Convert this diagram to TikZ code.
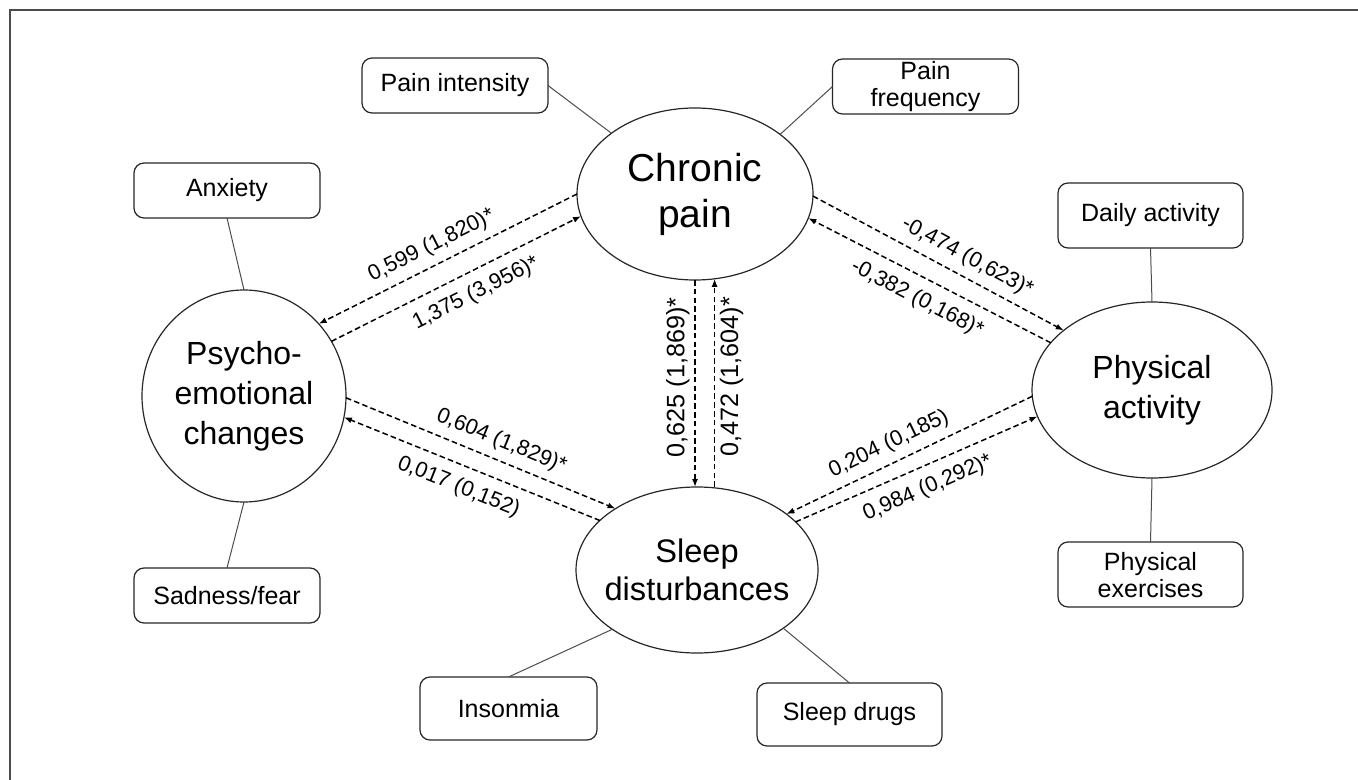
\documentclass[tikz,border=0pt]{standalone}
\usepackage{fontspec}
\setmainfont{Liberation Sans}
\usetikzlibrary{arrows.meta,shapes.geometric}
\begin{document}
\begin{tikzpicture}[x=0.5pt,y=-0.5pt,
  oval/.style={draw=black!85, line width=0.6pt, ellipse, inner sep=0pt, outer sep=0pt, align=center},
  rbox/.style={draw=black!85, line width=0.6pt, rounded corners=5pt, inner sep=0pt, outer sep=0pt, align=center, font=\fontsize{12.5}{13.5}\selectfont},
  link/.style={draw=black!70, line width=0.5pt},
  arr/.style={dash pattern=on 2.8pt off 1.6pt, line width=0.75pt, -{Latex[length=4pt,width=3pt]}},
  labA/.style={font=\fontsize{10.9}{12}\selectfont, sloped, above, inner sep=4pt},
  labB/.style={font=\fontsize{10.9}{12}\selectfont, sloped, below, inner sep=5.5pt},
  vlab/.style={font=\fontsize{12.6}{14}\selectfont, rotate=90, inner sep=2.3pt}
]
\useasboundingbox (0,0) rectangle (1358,780);
\draw[line width=1pt, black!70] (1358,10) -- (10,10) -- (10,780);

% main constructs
\node[oval, minimum width=118pt, minimum height=86pt, font=\fontsize{19.5}{23}\selectfont] (C) at (695,194) {\makebox[0pt]{Chronic}\\\makebox[0pt]{pain}};
\node[oval, minimum width=102pt, minimum height=106pt, font=\fontsize{16}{20}\selectfont] (P) at (244,396) {\makebox[0pt]{Psycho-}\\\makebox[0pt]{emotional}\\\makebox[0pt]{changes}};
\node[oval, minimum width=120pt, minimum height=88pt, font=\fontsize{16}{20}\selectfont] (Ph) at (1152,390) {\makebox[0pt]{Physical}\\\makebox[0pt]{activity}};
\node[oval, minimum width=121pt, minimum height=83pt, font=\fontsize{16.3}{19}\selectfont] (S) at (697,570) {\makebox[0pt]{Sleep}\\\makebox[0pt]{disturbances}};

% indicator boxes
\node[rbox, minimum width=93pt, minimum height=27.5pt] (PI) at (455,85.5) {Pain intensity};
\node[rbox, minimum width=93pt, minimum height=27.5pt] (PF) at (925.5,86.5) {\strut Pain\\frequency};
\node[rbox, minimum width=93pt, minimum height=27.5pt] (A) at (227,190.5) {Anxiety};
\node[rbox, minimum width=92.5pt, minimum height=32.5pt] (DA) at (1150.5,215.5) {Daily activity};
\node[rbox, minimum width=93pt, minimum height=27.5pt] (SF) at (227,595.5) {Sadness/fear};
\node[rbox, minimum width=92.5pt, minimum height=32.5pt] (PE) at (1150.5,574.5) {\strut Physical\\exercises};
\node[rbox, minimum width=88.5pt, minimum height=31.5pt] (I) at (508.5,708.5) {Insonmia};
\node[rbox, minimum width=92.5pt, minimum height=31.5pt] (SD) at (849.5,714.5) {Sleep drugs};

% indicator links
\draw[link] (PI.east) -- (C.144.3);
\draw[link] (PF.west) -- (C.35.7);
\draw[link] (A.south) -- (P.north);
\draw[link] (SF.north) -- (P.south);
\draw[link] (DA.south) -- (Ph.north);
\draw[link] (PE.north) -- (Ph.south);
\draw[link] (I.north) -- (S.215.5);
\draw[link] (SD.north) -- (S.326.6);

% structural paths
\draw[arr] (C.180.5) -- node[labA, pos=0.53] {0,599 (1,820)*} (P.44);
\draw[arr] (P.32) -- node[labB, pos=0.54] {1,375 (3,956)*} (C.191.5);

\draw[arr] (C.359.5) -- node[labA, pos=0.58] {-0,474 (0,623)*} (Ph.146.8);
\draw[arr] (Ph.155.1) -- node[labB, pos=0.51] {-0,382 (0,168)*} (C.348.7);

\draw[arr] (C.270) -- node[vlab, anchor=south, pos=0.47] {0,625 (1,869)*} (C.270 |- S.north);
\draw[arr] (C.283.3 |- S.north) -- node[vlab, anchor=north, pos=0.53] {0,472 (1,604)*} (C.283.3);

\draw[arr] (P.359.4) -- node[labA, pos=0.55] {0,604 (1,829)*} (S.143.1);
\draw[arr] (S.153.4) -- node[labB, pos=0.52] {0,017 (0,152)} (P.348);

\draw[arr] (Ph.183.9) -- node[labA, pos=0.55] {0,204 (0,185)} (S.32.2);
\draw[arr] (S.26.6) -- node[labB, pos=0.51] {0,984 (0,292)*} (Ph.193.5);
\end{tikzpicture}
\end{document}
